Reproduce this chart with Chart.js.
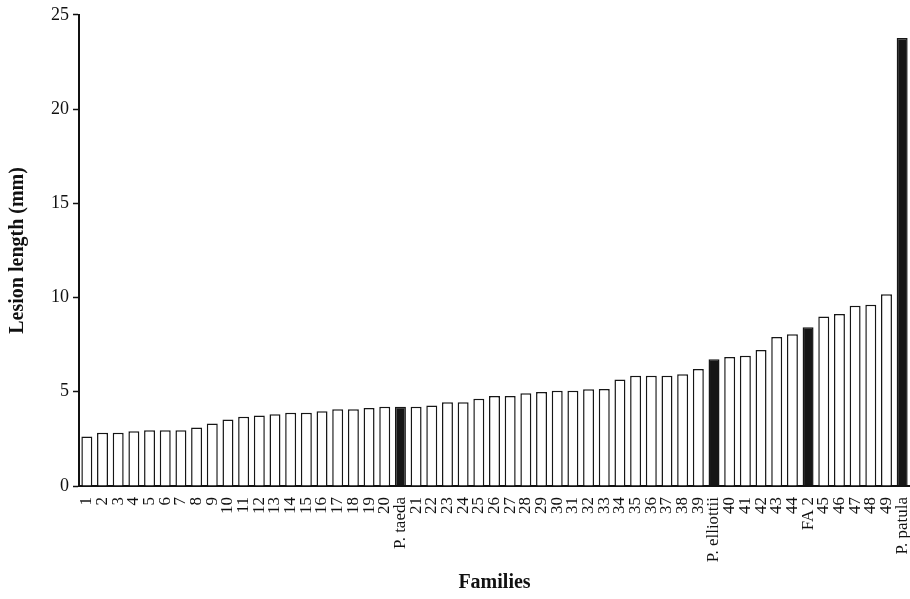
<!DOCTYPE html>
<html>
<head>
<meta charset="utf-8">
<script src="https://cdn.jsdelivr.net/npm/chart.js@4"></script>
<style>
  html, body { margin: 0; padding: 0; background: #fff; }
  #wrap { width: 910px; height: 599px; }
</style>
</head>
<body>
<div id="wrap"><canvas id="lesionChart"></canvas></div>
<script>
// families in ranked order, controls marked black
const families = [
  '1','2','3','4','5','6','7','8','9','10',
  '11','12','13','14','15','16','17','18','19','20',
  'P. taeda',
  '21','22','23','24','25','26','27','28','29','30',
  '31','32','33','34','35','36','37','38','39',
  'P. elliottii',
  '40','41','42','43','44',
  'FA 2',
  '45','46','47','48','49',
  'P. patula'
];
const lesionLength = [
  2.62, 2.82, 2.83, 2.90, 2.96, 2.96, 2.96, 3.11, 3.32, 3.53,
  3.68, 3.74, 3.81, 3.88, 3.89, 3.96, 4.07, 4.07, 4.14, 4.21,
  4.21,
  4.21, 4.27, 4.45, 4.45, 4.63, 4.77, 4.78, 4.92, 4.99, 5.06,
  5.06, 5.13, 5.15, 5.65, 5.85, 5.85, 5.85, 5.93, 6.21,
  6.72,
  6.84, 6.91, 7.22, 7.91, 8.05,
  8.42,
  8.99, 9.12, 9.56, 9.61, 10.17,
  23.77
];
const controls = ['P. taeda', 'P. elliottii', 'FA 2', 'P. patula'];
const yTicks = [0, 5, 10, 15, 20, 25];

const serif = '"Liberation Serif", "Times New Roman", serif';

new Chart(document.getElementById('lesionChart'), {
    type: 'bar',
    data: {
        labels: families,
        datasets: [{
            data: lesionLength,
            backgroundColor: families.map(f => controls.includes(f) ? '#161616' : '#ffffff'),
            borderColor: '#161616',
            borderWidth: 1.5,
            barPercentage: 0.7,
            categoryPercentage: 1
        }]
    },
    options: {
        responsive: true,
        maintainAspectRatio: false,
        animation: false,
        layout: { padding: { top: 14, right: 0, bottom: 0, left: 0 } },
        plugins: {
            legend: { display: false },
            tooltip: { enabled: false }
        },
        scales: {
            x: {
                grid: { display: false },
                border: { display: true, color: '#111', width: 2 },
                ticks: {
                    autoSkip: false,
                    minRotation: 90,
                    maxRotation: 90,
                    padding: 3,
                    color: '#111',
                    font: { family: serif, size: 17 }
                },
                title: {
                    display: true,
                    text: 'Families',
                    color: '#111',
                    font: { family: serif, size: 20, weight: 'bold' },
                    padding: { top: 0, bottom: 4 }
                },
                afterFit: scale => {
                    scale.height = 113;
                    scale.paddingLeft = 0;
                    scale.paddingRight = 0;
                }
            },
            y: {
                min: 0,
                max: 25,
                afterBuildTicks: scale => { scale.ticks = yTicks.map(v => ({ value: v })); },
                grid: {
                    drawOnChartArea: false,
                    drawTicks: true,
                    tickLength: 6,
                    tickColor: '#111',
                    tickWidth: 1.5
                },
                border: { display: true, color: '#111', width: 2 },
                ticks: {
                    padding: 4,
                    color: '#111',
                    font: { family: serif, size: 18 }
                },
                title: {
                    display: true,
                    text: 'Lesion length (mm)',
                    color: '#111',
                    font: { family: serif, size: 20, weight: 'bold' },
                    padding: { top: 6, bottom: 0 }
                },
                afterFit: scale => { scale.width = 79; }
            }
        }
    }
});
</script>
</body>
</html>
